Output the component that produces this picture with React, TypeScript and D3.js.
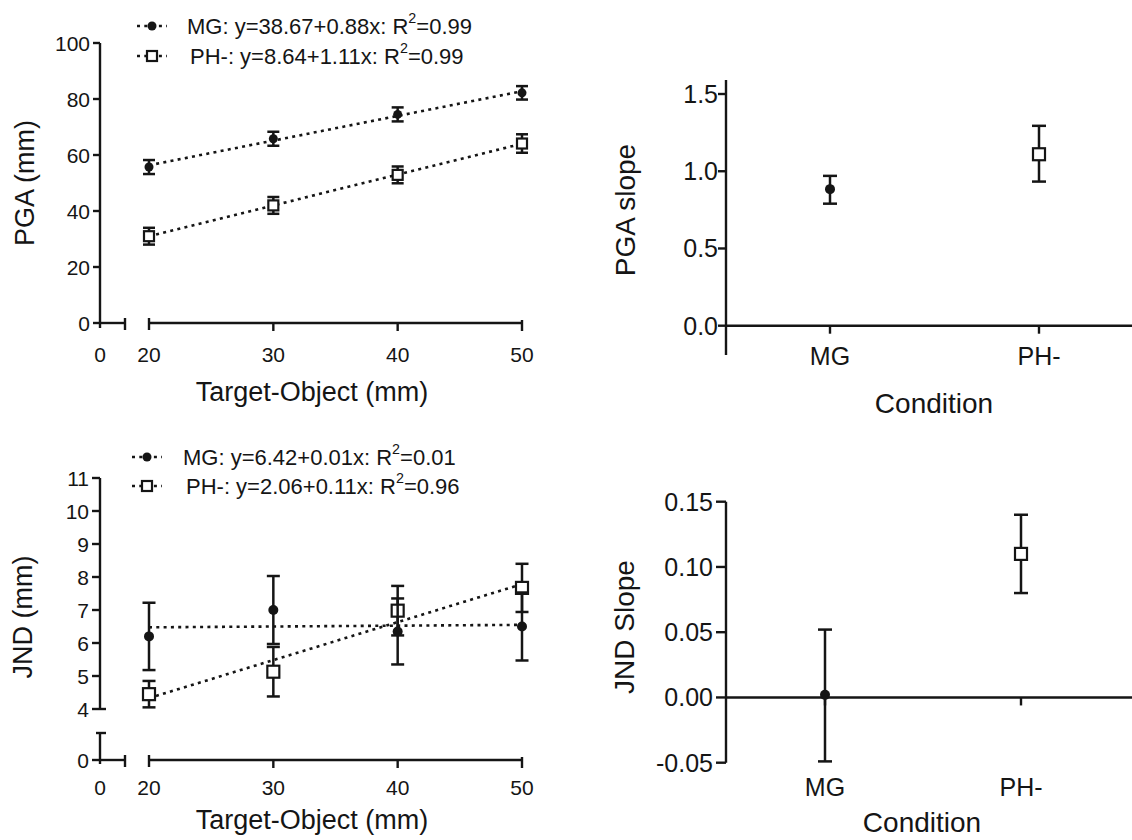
import React from 'react';
import * as d3 from 'd3';

// ---------- data ----------
const targetSizes = [20, 30, 40, 50];

const pgaMG = [55.7, 65.8, 74.5, 82.2];
const pgaMGErr = [2.5, 2.5, 2.5, 2.4];
const pgaPH = [31.0, 42.0, 52.9, 64.1];
const pgaPHErr = [3.0, 3.0, 3.0, 3.3];

const jndMG = [6.2, 7.0, 6.35, 6.5];
const jndMGErr = [1.02, 1.03, 1.0, 1.03];
const jndPH = [4.45, 5.13, 6.98, 7.67];
const jndPHErr = [0.4, 0.75, 0.75, 0.73];

const conditions = ['MG', 'PH-'];
const pgaSlope = [0.884, 1.11];
const pgaSlopeLow = [0.79, 0.933];
const pgaSlopeHigh = [0.97, 1.294];
const jndSlope = [0.002, 0.11];
const jndSlopeLow = [-0.049, 0.08];
const jndSlopeHigh = [0.052, 0.14];

const pgaTicks = [0, 20, 40, 60, 80, 100];
const jndTicksUpper = [4, 5, 6, 7, 8, 9, 10, 11];
const jndTickLower = 0;
const xTicks = [20, 30, 40, 50];
const xBreakTick = 0;
const pgaSlopeTicks = [0, 0.5, 1.0, 1.5];
const jndSlopeTicks = [-0.05, 0, 0.05, 0.1, 0.15];

const pgaLegend = ['MG: y=38.67+0.88x: R', 'PH-: y=8.64+1.11x: R'];
const pgaLegendR2 = ['=0.99', '=0.99'];
const jndLegend = ['MG: y=6.42+0.01x: R', 'PH-: y=2.06+0.11x: R'];
const jndLegendR2 = ['=0.01', '=0.96'];

// ---------- helpers ----------
const FONT = "'Liberation Sans', Arial, Helvetica, sans-serif";
const INK = '#151515';
const fmtMinus = (f: (n: number) => string) => (n: number) => f(n).replace('\u2212', '-');

function linFit(xs: number[], ys: number[]) {
  const mx = d3.mean(xs) as number;
  const my = d3.mean(ys) as number;
  const num = d3.sum(xs.map((x, i) => (x - mx) * (ys[i] - my)));
  const den = d3.sum(xs.map((x) => (x - mx) * (x - mx)));
  const b = num / den;
  return { a: my - b * mx, b };
}

function ErrBar({ x, y1, y2, cap = 13, sw = 2.5 }: any) {
  return (
    <g stroke={INK} strokeWidth={sw}>
      <line x1={x} x2={x} y1={y1} y2={y2} />
      <line x1={x - cap / 2} x2={x + cap / 2} y1={y1} y2={y1} />
      <line x1={x - cap / 2} x2={x + cap / 2} y1={y2} y2={y2} />
    </g>
  );
}

function Marker({ kind, x, y, size }: any) {
  if (kind === 'circle') return <circle cx={x} cy={y} r={size / 2} fill={INK} />;
  return (
    <rect x={x - size / 2} y={y - size / 2} width={size} height={size} fill="#fff" stroke={INK} strokeWidth={2.2} />
  );
}

const DOT = { stroke: INK, strokeWidth: 2.6, strokeDasharray: '3 4.3', fill: 'none' };

function Legend({ x0, x1, xt, ys, labels, r2s, fontSize }: any) {
  return (
    <g>
      {labels.map((lab: string, i: number) => (
        <g key={i}>
          <line x1={x0} x2={x1} y1={ys[i]} y2={ys[i]} {...DOT} />
          <Marker kind={i === 0 ? 'circle' : 'square'} x={(x0 + x1) / 2} y={ys[i]} size={i === 0 ? 9 : 10} />
          <text x={xt + (i === 0 ? 0 : 3)} y={ys[i]} dominantBaseline="central" fontSize={fontSize} fill={INK}>
            {lab}
            <tspan dy={-8} fontSize={fontSize * 0.65}>2</tspan>
            <tspan dy={8}>{r2s[i]}</tspan>
          </text>
        </g>
      ))}
    </g>
  );
}

// ---------- left panels ----------
const AX_X = 100;
const SEG1_END = 125;
const xMain = d3.scaleLinear().domain([20, 50]).range([149, 522]);

function LeftXAxis({ y0, labelY, titleY }: any) {
  return (
    <g stroke={INK} strokeWidth={2.4}>
      <line x1={AX_X} x2={SEG1_END} y1={y0} y2={y0} />
      <line x1={SEG1_END} x2={SEG1_END} y1={y0 - 5} y2={y0 + 7} />
      <line x1={xMain(20)} x2={xMain(50)} y1={y0} y2={y0} />
      <line x1={xMain(20)} x2={xMain(20)} y1={y0 - 5} y2={y0 + 7} />
      <line x1={xMain(50)} x2={xMain(50)} y1={y0 - 3} y2={y0 + 8} />
      {xTicks.slice(1, 3).map((t) => (
        <line key={t} x1={xMain(t)} x2={xMain(t)} y1={y0} y2={y0 + 8} />
      ))}
      <g stroke="none" fill={INK} fontSize={21} textAnchor="middle">
        <text x={AX_X} y={labelY} dominantBaseline="central">{xBreakTick}</text>
        {xTicks.map((t) => (
          <text key={t} x={xMain(t)} y={labelY} dominantBaseline="central">{t}</text>
        ))}
        <text x={312} y={titleY} fontSize={27} dominantBaseline="central">Target-Object (mm)</text>
      </g>
    </g>
  );
}

function Series({ xs, ys, errs, y, kind, size, cap }: any) {
  return (
    <g>
      {xs.map((xv: number, i: number) => (
        <ErrBar key={'e' + i} x={xMain(xv)} y1={y(ys[i] + errs[i])} y2={y(ys[i] - errs[i])} cap={cap} />
      ))}
      {xs.map((xv: number, i: number) => (
        <Marker key={'m' + i} kind={kind} x={xMain(xv)} y={y(ys[i])} size={size} />
      ))}
    </g>
  );
}

function FitLine({ xs, ys, y }: any) {
  const f = linFit(xs, ys);
  const x0 = xs[0];
  const x1 = xs[xs.length - 1];
  return <line x1={xMain(x0)} x2={xMain(x1)} y1={y(f.a + f.b * x0)} y2={y(f.a + f.b * x1)} {...DOT} />;
}

function PGAPanel() {
  const y = d3.scaleLinear().domain([0, 100]).range([323, 43]);
  return (
    <g>
      <g stroke={INK} strokeWidth={2.4}>
        <line x1={AX_X} x2={AX_X} y1={y(100)} y2={y(0) + 5} />
        {pgaTicks.map((t) => (
          <line key={t} x1={AX_X - 7} x2={AX_X} y1={y(t)} y2={y(t)} />
        ))}
      </g>
      <g fill={INK} fontSize={21} textAnchor="end">
        {pgaTicks.map((t) => (
          <text key={t} x={AX_X - 10} y={y(t)} dominantBaseline="central">{t}</text>
        ))}
      </g>
      <text transform={`translate(25,183) rotate(-90)`} textAnchor="middle" dominantBaseline="central" fontSize={27} fill={INK}>
        PGA (mm)
      </text>
      <LeftXAxis y0={y(0)} labelY={354} titleY={392} />
      <FitLine xs={targetSizes} ys={pgaPH} y={y} />
      <FitLine xs={targetSizes} ys={pgaMG} y={y} />
      <Series xs={targetSizes} ys={pgaPH} errs={pgaPHErr} y={y} kind="square" size={10} cap={12} />
      <Series xs={targetSizes} ys={pgaMG} errs={pgaMGErr} y={y} kind="circle" size={9} cap={12} />
      <Legend x0={137} x1={167} xt={187} ys={[26, 56]} labels={pgaLegend} r2s={pgaLegendR2} fontSize={22} />
    </g>
  );
}

function JNDPanel() {
  const y = d3.scaleLinear().domain([4, 11]).range([709, 478]);
  const yLow = d3.scaleLinear().domain([0, 1]).range([760, 727]);
  const lowCapY = 733;
  return (
    <g>
      <g stroke={INK} strokeWidth={2.4}>
        <line x1={AX_X} x2={AX_X} y1={y(11)} y2={y(4)} />
        {jndTicksUpper.map((t) => (
          <line key={t} x1={AX_X - 8} x2={AX_X} y1={y(t)} y2={y(t)} />
        ))}
        <line x1={AX_X} x2={AX_X + 6} y1={y(4)} y2={y(4)} />
        <line x1={AX_X} x2={AX_X} y1={lowCapY} y2={yLow(jndTickLower) + 4} />
        <line x1={AX_X - 4} x2={AX_X + 6} y1={lowCapY} y2={lowCapY} />
        <line x1={AX_X - 8} x2={AX_X} y1={yLow(jndTickLower)} y2={yLow(jndTickLower)} />
      </g>
      <g fill={INK} fontSize={21} textAnchor="end">
        {jndTicksUpper.map((t) => (
          <text key={t} x={AX_X - 11} y={y(t)} dominantBaseline="central">{t}</text>
        ))}
        <text x={AX_X - 11} y={yLow(jndTickLower)} dominantBaseline="central">{jndTickLower}</text>
      </g>
      <text transform={`translate(23,617) rotate(-90)`} textAnchor="middle" dominantBaseline="central" fontSize={27} fill={INK}>
        JND (mm)
      </text>
      <LeftXAxis y0={yLow(0)} labelY={787} titleY={820} />
      <FitLine xs={targetSizes} ys={jndPH} y={y} />
      <FitLine xs={targetSizes} ys={jndMG} y={y} />
      <Series xs={targetSizes} ys={jndPH} errs={jndPHErr} y={y} kind="square" size={12} cap={13} />
      <Series xs={targetSizes} ys={jndMG} errs={jndMGErr} y={y} kind="circle" size={10} cap={13} />
      <Legend x0={132} x1={162} xt={183} ys={[457, 486]} labels={jndLegend} r2s={jndLegendR2} fontSize={22} />
    </g>
  );
}

// ---------- right panels ----------
function SlopePanel({ y, x, ticks, fmt, axisTop, axisBottom, values, lows, highs, title, titleX, titleY, catY, condX, condY, tickLen, labelEnd }: any) {
  const AX = 726;
  const y0 = y(0);
  return (
    <g>
      <g stroke={INK} strokeWidth={2.4}>
        <line x1={AX} x2={AX} y1={axisTop} y2={axisBottom} />
        {ticks.map((t: number) => (
          <line key={t} x1={AX - tickLen} x2={AX} y1={y(t)} y2={y(t)} />
        ))}
        <line x1={AX} x2={1132} y1={y0} y2={y0} />
        {conditions.map((c) => (
          <line key={c} x1={x(c)} x2={x(c)} y1={y0} y2={y0 + 8} />
        ))}
      </g>
      <g fill={INK} fontSize={25}>
        {ticks.map((t: number) => (
          <text key={t} x={labelEnd} y={y(t)} textAnchor="end" dominantBaseline="central">{fmt(t)}</text>
        ))}
        {conditions.map((c) => (
          <text key={c} x={x(c)} y={catY} textAnchor="middle" dominantBaseline="central">{c}</text>
        ))}
      </g>
      <text x={condX} y={condY} textAnchor="middle" dominantBaseline="central" fontSize={28} fill={INK}>Condition</text>
      <text transform={`translate(${titleX},${titleY}) rotate(-90)`} textAnchor="middle" dominantBaseline="central" fontSize={28} fill={INK}>
        {title}
      </text>
      {conditions.map((c, i) => (
        <ErrBar key={'e' + c} x={x(c)} y1={y(highs[i])} y2={y(lows[i])} cap={14} />
      ))}
      {conditions.map((c, i) => (
        <Marker key={'m' + c} kind={i === 0 ? 'circle' : 'square'} x={x(c)} y={y(values[i])} size={i === 0 ? 10 : 12} />
      ))}
    </g>
  );
}

export default function App() {
  const yPS = d3.scaleLinear().domain([0, 1.5]).range([325.7, 94]);
  const xPS = d3.scalePoint<string>().domain(conditions).range([830, 1039]);
  const yJS = d3.scaleLinear().domain([-0.05, 0.15]).range([762.7, 501.7]);
  const xJS = d3.scalePoint<string>().domain(conditions).range([825, 1021]);
  return (
    <svg
      width={1132}
      height={840}
      viewBox="0 0 1132 840"
      style={{ position: 'absolute', left: 0, top: 0, background: '#fff' }}
      fontFamily={FONT}
    >
      <rect width={1132} height={840} fill="#fff" />
      <PGAPanel />
      <JNDPanel />
      <SlopePanel
        y={yPS}
        x={xPS}
        ticks={pgaSlopeTicks}
        fmt={fmtMinus(d3.format('.1f'))}
        axisTop={yPS(1.59)}
        axisBottom={yPS(-0.19)}
        values={pgaSlope}
        lows={pgaSlopeLow}
        highs={pgaSlopeHigh}
        title="PGA slope"
        titleX={625}
        titleY={210}
        catY={356}
        condX={934}
        condY={403}
        tickLen={8}
        labelEnd={718}
      />
      <SlopePanel
        y={yJS}
        x={xJS}
        ticks={jndSlopeTicks}
        fmt={fmtMinus(d3.format('.2f'))}
        axisTop={yJS(0.15)}
        axisBottom={yJS(-0.05)}
        values={jndSlope}
        lows={jndSlopeLow}
        highs={jndSlopeHigh}
        title="JND Slope"
        titleX={624}
        titleY={627}
        catY={787}
        condX={922}
        condY={822}
        tickLen={10}
        labelEnd={713}
      />
    </svg>
  );
}
